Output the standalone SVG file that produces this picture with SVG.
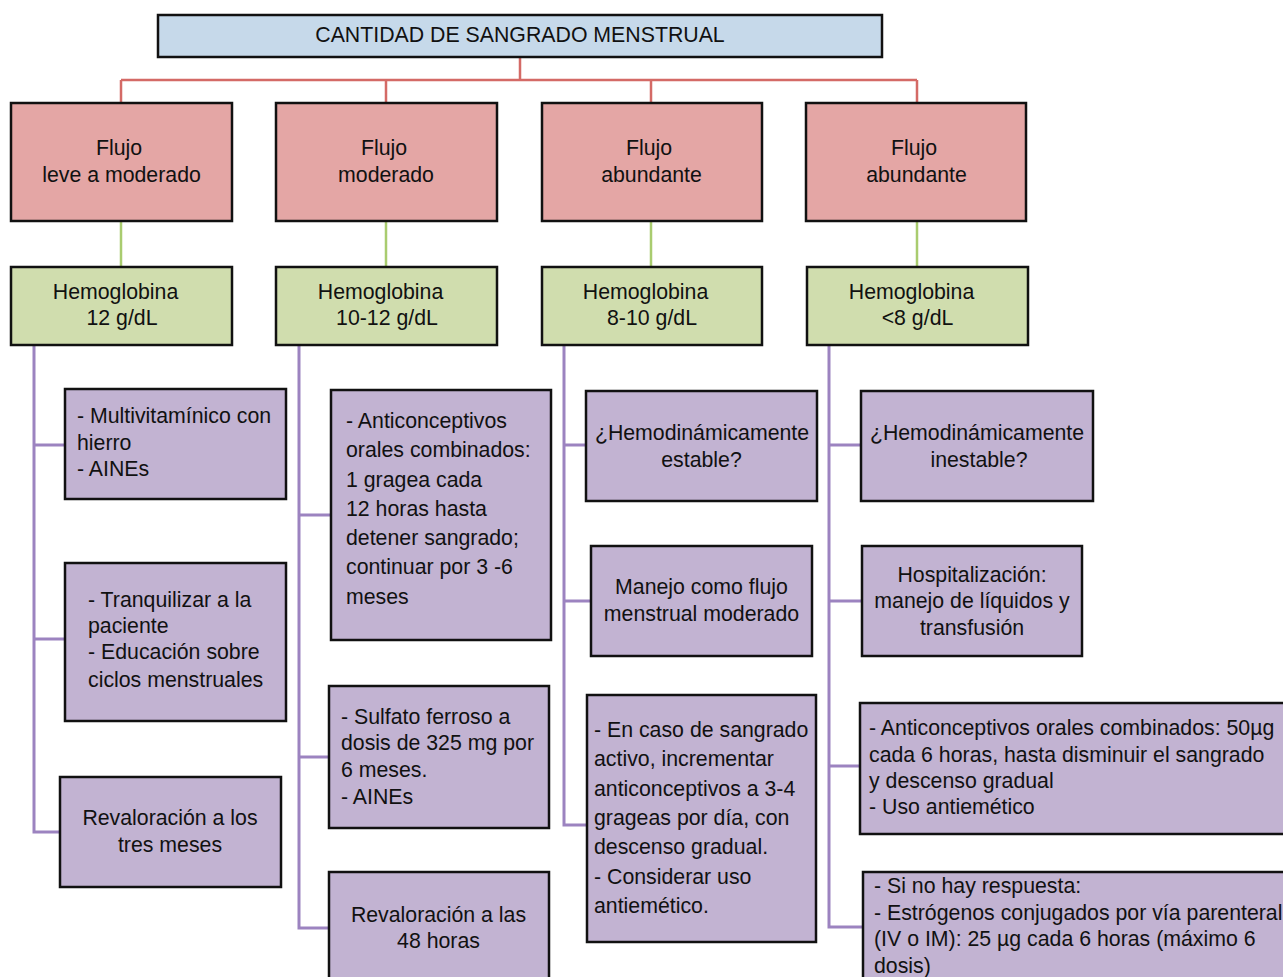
<svg xmlns="http://www.w3.org/2000/svg" width="1283" height="977" viewBox="0 0 1283 977">
<style>
text{font-family:"Liberation Sans",Arial,sans-serif;font-size:21.3px;fill:#111}
.c{text-anchor:middle}
.box{stroke:#111;stroke-width:2.5}
.blue{fill:#c6d9ea}
.red{fill:#e4a6a5}
.green{fill:#d0ddae}
.purple{fill:#c2b3d2}
.lr{stroke:#d46a66;stroke-width:2.5;fill:none}
.lg{stroke:#a9cc6f;stroke-width:2.5;fill:none}
.lp{stroke:#9c83c0;stroke-width:3;fill:none}
</style>
<rect width="1283" height="977" fill="#fff"/>
<g id="connectors">
<path class="lr" d="M520 57V80M121 80H917M121 80V103M386 80V103M651 80V103M917 80V103"/>
<path class="lg" d="M121 222V267M386 222V267M651 222V267M917 222V267"/>
<path class="lp" d="M34 345V832H60M34 445H65M34 639H65"/>
<path class="lp" d="M299 345V928H329M299 515H331M299 757H329"/>
<path class="lp" d="M564 345V825H586M564 445H586M564 601H591"/>
<path class="lp" d="M829 345V927H863M829 445H861M829 601H862M829 766H860"/>
</g>
<g id="title"><rect class="box blue" x="158" y="15" width="724" height="42"/><text class="c" x="520" y="42">CANTIDAD DE SANGRADO MENSTRUAL</text></g>
<g id="flujo1"><rect class="box red" x="11" y="103" width="221" height="118"/><text class="c" x="119" y="155">Flujo</text><text class="c" x="121.5" y="182">leve a moderado</text></g>
<g id="flujo2"><rect class="box red" x="276" y="103" width="221" height="118"/><text class="c" x="384" y="155">Flujo</text><text class="c" x="386" y="182">moderado</text></g>
<g id="flujo3"><rect class="box red" x="542" y="103" width="220" height="118"/><text class="c" x="649" y="155">Flujo</text><text class="c" x="651.5" y="182">abundante</text></g>
<g id="flujo4"><rect class="box red" x="806" y="103" width="220" height="118"/><text class="c" x="914" y="155">Flujo</text><text class="c" x="916.5" y="182">abundante</text></g>
<g id="hb1"><rect class="box green" x="11" y="267" width="221" height="78"/><text class="c" x="115.5" y="299">Hemoglobina</text><text class="c" x="122" y="325">12 g/dL</text></g>
<g id="hb2"><rect class="box green" x="276" y="267" width="221" height="78"/><text class="c" x="380.5" y="299">Hemoglobina</text><text class="c" x="387" y="325">10-12 g/dL</text></g>
<g id="hb3"><rect class="box green" x="542" y="267" width="220" height="78"/><text class="c" x="645.5" y="299">Hemoglobina</text><text class="c" x="652" y="325">8-10 g/dL</text></g>
<g id="hb4"><rect class="box green" x="807" y="267" width="221" height="78"/><text class="c" x="911.5" y="299">Hemoglobina</text><text class="c" x="917.5" y="325">&lt;8 g/dL</text></g>
<g id="a1"><rect class="box purple" x="65" y="389" width="221" height="110"/><text x="77" y="423">- Multivitamínico con</text><text x="77" y="450">hierro</text><text x="77" y="476">- AINEs</text></g>
<g id="a2"><rect class="box purple" x="65" y="563" width="221" height="158"/><text x="88" y="607">- Tranquilizar a la</text><text x="88" y="633">paciente</text><text x="88" y="659">- Educación sobre</text><text x="88" y="687">ciclos menstruales</text></g>
<g id="a3"><rect class="box purple" x="60" y="777" width="221" height="110"/><text class="c" x="170" y="825">Revaloración a los</text><text class="c" x="170" y="852">tres meses</text></g>
<g id="b1"><rect class="box purple" x="331" y="390" width="220" height="250"/><text x="346" y="428">- Anticonceptivos</text><text x="346" y="457">orales combinados:</text><text x="346" y="487">1 gragea cada</text><text x="346" y="516">12 horas hasta</text><text x="346" y="545">detener sangrado;</text><text x="346" y="574">continuar por 3 -6</text><text x="346" y="604">meses</text></g>
<g id="b2"><rect class="box purple" x="329" y="686" width="220" height="142"/><text x="341" y="724">- Sulfato ferroso a</text><text x="341" y="750">dosis de 325 mg por</text><text x="341" y="777">6 meses.</text><text x="341" y="804">- AINEs</text></g>
<g id="b3"><rect class="box purple" x="329" y="872" width="220" height="120"/><text class="c" x="438.5" y="922">Revaloración a las</text><text class="c" x="438.5" y="948">48 horas</text></g>
<g id="c1"><rect class="box purple" x="586" y="391" width="231" height="110"/><text class="c" x="702" y="440">¿Hemodinámicamente</text><text class="c" x="701.5" y="467">estable?</text></g>
<g id="c2"><rect class="box purple" x="591" y="546" width="221" height="110"/><text class="c" x="701.5" y="594">Manejo como flujo</text><text class="c" x="701.5" y="621">menstrual moderado</text></g>
<g id="c3"><rect class="box purple" x="587" y="695" width="229" height="247"/><text x="594" y="737">- En caso de sangrado</text><text x="594" y="766">activo, incrementar</text><text x="594" y="796">anticonceptivos a 3-4</text><text x="594" y="825">grageas por día, con</text><text x="594" y="854">descenso gradual.</text><text x="594" y="884">- Considerar uso</text><text x="594" y="913">antiemético.</text></g>
<g id="d1"><rect class="box purple" x="861" y="391" width="232" height="110"/><text class="c" x="977" y="440">¿Hemodinámicamente</text><text class="c" x="979" y="467">inestable?</text></g>
<g id="d2"><rect class="box purple" x="862" y="546" width="220" height="110"/><text class="c" x="972" y="582">Hospitalización:</text><text class="c" x="972" y="608">manejo de líquidos y</text><text class="c" x="972" y="635">transfusión</text></g>
<g id="d3"><rect class="box purple" x="860" y="703" width="440" height="131"/><text x="869" y="735">- Anticonceptivos orales combinados: 50µg</text><text x="869" y="762">cada 6 horas, hasta disminuir el sangrado</text><text x="869" y="788">y descenso gradual</text><text x="869" y="814">- Uso antiemético</text></g>
<g id="d4"><rect class="box purple" x="863" y="872" width="440" height="120"/><text x="874" y="893">- Si no hay respuesta:</text><text x="874" y="920">- Estrógenos conjugados por vía parenteral</text><text x="874" y="946">(IV o IM): 25 µg cada 6 horas (máximo 6</text><text x="874" y="973">dosis)</text></g>
</svg>
